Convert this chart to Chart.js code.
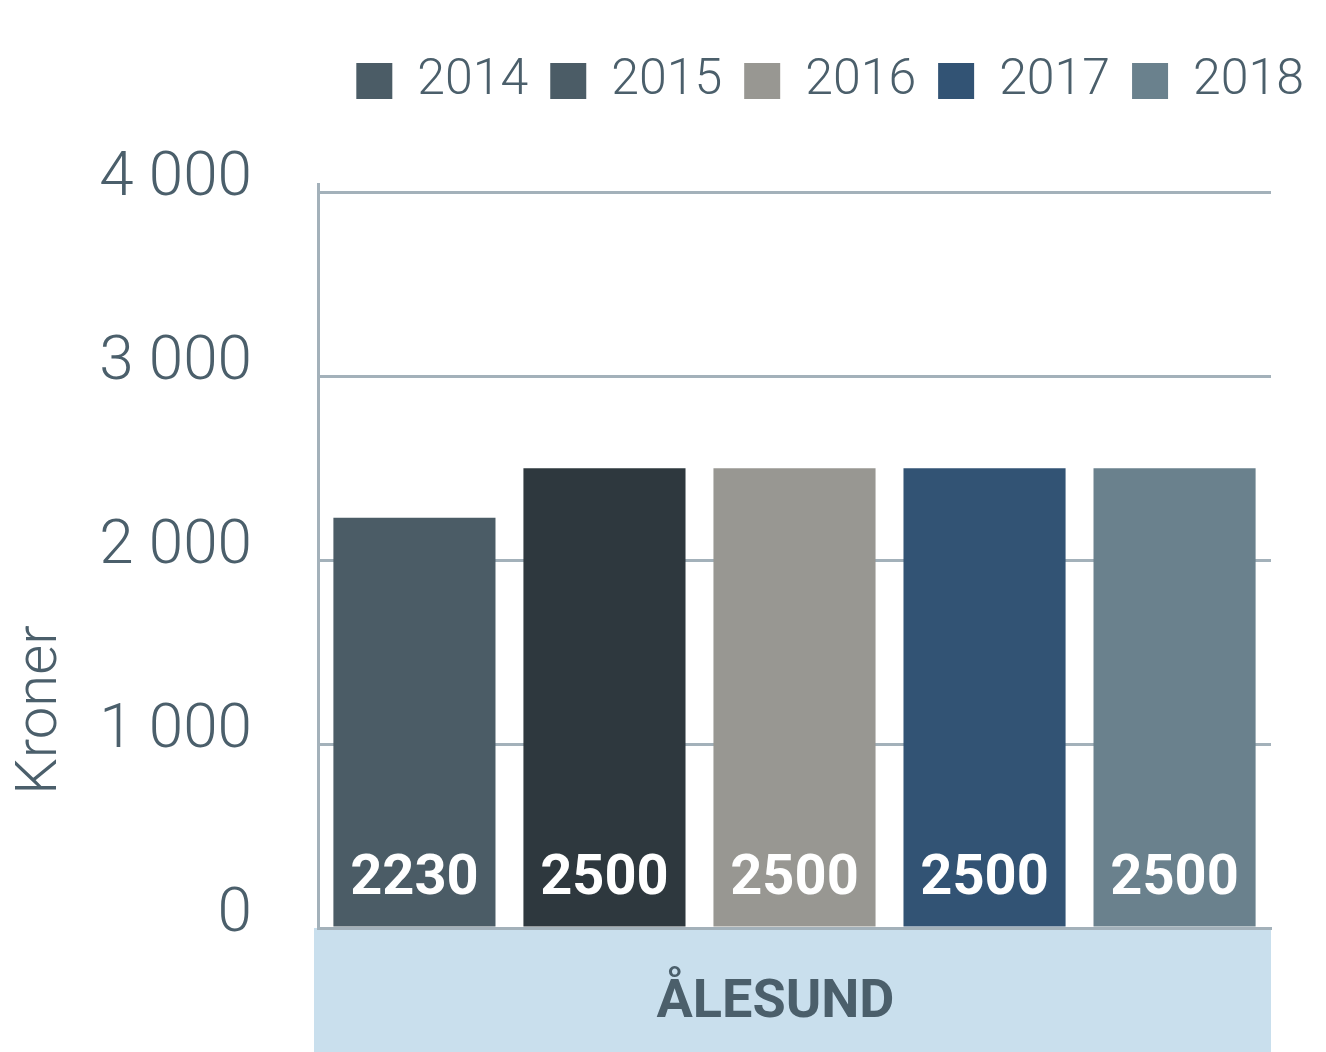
<!DOCTYPE html>
<html lang="nb"><head><meta charset="UTF-8">
<title>Kroner – Ålesund</title>
<script src="https://cdn.jsdelivr.net/npm/chart.js@4.4.1/dist/chart.umd.min.js"></script>
<style>
*{box-sizing:border-box;margin:0;padding:0;}
body{background:#fff;}
.wrap{width:1326px;height:1052px;position:relative;}
</style></head>
<body><div class="wrap"><canvas id="c"></canvas></div>
<script>
// data
const categories = ['ÅLESUND'];
const years = ['2014', '2015', '2016', '2017', '2018'];
const values = [2230, 2500, 2500, 2500, 2500];
const yTicks = [0, 1000, 2000, 3000, 4000];
const barColors = ['#4b5c66', '#2e383e', '#989792', '#325374', '#6a818d'];
const legendColors = ['#4b5c66', '#4b5c66', '#989792', '#325374', '#6a818d'];

const TXT = '#4b5f6b';
const GRID = '#a3b1ba';
const FONT = 'Roboto, "Open Sans", sans-serif';

const fmt = v => String(v).replace(/\B(?=(\d{3})+(?!\d))/g, ' ');

// light blue band under the category axis + y title
const bandPlugin = {
  id: 'band',
  beforeDraw(chart) {
    const { ctx, chartArea: a } = chart;
    ctx.save();
    ctx.fillStyle = '#c9dfed';
    ctx.fillRect(a.left - 4, a.bottom, a.right - a.left + 4, chart.height - a.bottom);
    ctx.restore();
  },
  afterDraw(chart) {
    const { ctx } = chart;
    ctx.save();
    ctx.translate(41, 710);
    ctx.rotate(-Math.PI / 2);
    ctx.fillStyle = TXT;
    ctx.font = '300 58px ' + FONT;
    ctx.textAlign = 'center';
    ctx.textBaseline = 'middle';
    ctx.fillText('Kroner', 0, 0);
    ctx.restore();
  }
};

// white value labels inside the foot of each bar
const valueLabels = {
  id: 'valueLabels',
  afterDatasetsDraw(chart) {
    const { ctx } = chart;
    ctx.save();
    ctx.fillStyle = '#fff';
    ctx.font = 'bold 56px ' + FONT;
    ctx.textAlign = 'center';
    ctx.textBaseline = 'middle';
    chart.data.datasets.forEach((ds, i) => {
      chart.getDatasetMeta(i).data.forEach((bar, j) => {
        ctx.fillText(ds.data[j], bar.x, bar.base - 47);
      });
    });
    ctx.restore();
  }
};

const hidden = { grid: { display: false, drawTicks: false }, border: { display: false }, ticks: { display: false } };

new Chart(document.getElementById('c'), {
  type: 'bar',
  data: {
    labels: categories,
    datasets: years.map((y, i) => ({
      label: y,
      data: [values[i]],
      backgroundColor: barColors[i],
      borderWidth: 0,
      categoryPercentage: 0.997,
      barPercentage: 0.853
    }))
  },
  options: {
    responsive: true,
    maintainAspectRatio: false,
    animation: false,
    layout: { padding: { top: 34, right: 0, left: 0, bottom: 0 } },
    plugins: {
      tooltip: { enabled: false },
      legend: {
        position: 'top',
        align: 'end',
        labels: {
          boxWidth: 36,
          boxHeight: 36,
          padding: 22,
          color: TXT,
          font: { family: FONT, size: 50, weight: '300' },
          generateLabels(chart) {
            return Chart.defaults.plugins.legend.labels.generateLabels(chart).map((l, i) => ({
              ...l, fillStyle: legendColors[i], strokeStyle: legendColors[i], lineWidth: 0
            }));
          }
        }
      }
    },
    scales: {
      x: {
        grid: { display: false, drawTicks: false },
        border: { color: GRID, width: 3 },
        ticks: { color: TXT, padding: 43, labelOffset: -19, font: { family: FONT, size: 54, weight: 'bold' } },
        afterFit(s) { s.height = 124; }
      },
      y: {
        min: 0,
        max: 4045,
        afterBuildTicks(s) { s.ticks = yTicks.map(v => ({ value: v })); },
        grid: { color: GRID, lineWidth: 3, drawTicks: false },
        border: { color: GRID, width: 3 },
        ticks: {
          color: TXT,
          padding: 66,
          labelOffset: -13,
          font: { family: FONT, size: 62, weight: '300' },
          callback: v => fmt(v)
        },
        afterFit(s) { s.width = 318; }
      },
      // empty spacers: gap under the legend, gutter right of the plot
      spacerTop: { ...hidden, type: 'category', position: 'top', afterFit(s) { s.height = 68; } },
      gutter: { ...hidden, type: 'linear', position: 'right', afterFit(s) { s.width = 55; } }
    }
  },
  plugins: [bandPlugin, valueLabels]
});
</script>
</body></html>
